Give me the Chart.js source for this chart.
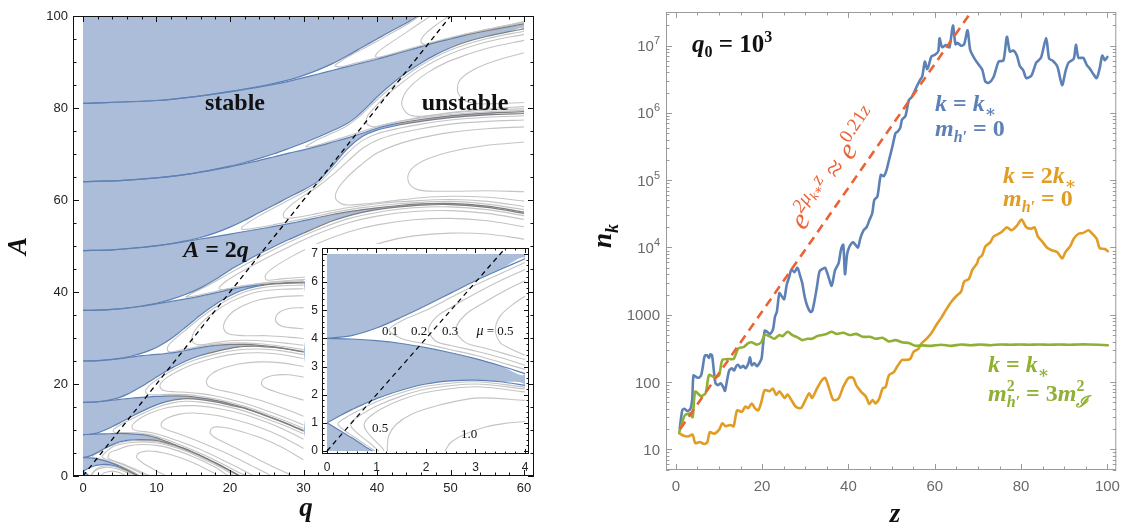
<!DOCTYPE html>
<html><head><meta charset="utf-8">
<script src="https://cdn.jsdelivr.net/npm/chart.js@4.4.1/dist/chart.umd.min.js"></script>
<style>
html,body{margin:0;padding:0;background:#fff}
body{width:1128px;height:530px;position:relative;overflow:hidden}
canvas{position:absolute;display:block}
</style></head><body>
<canvas id="cMain" width="560" height="530" style="left:0;top:0"></canvas>
<canvas id="cInset" width="240" height="240" style="left:296px;top:236px"></canvas>
<canvas id="cRight" width="568" height="530" style="left:560px;top:0"></canvas>
<script>
// ================= DATA : left panel (Mathieu stability chart, q-A plane) =================
const mainXTicks = [0,10,20,30,40,50,60];
const mainYTicks = [0,20,40,60,80,100];
const stableRegion = [[0,0],[60,0],[60,100],[0,100]];
// tongue boundaries b_n (lower) and a_n (upper)
const b1 = [[0,1],[0.25,0.74],[0.5,0.47],[0.75,0.18],[0.92,0]];
const a1 = [[0,1],[0.5,1.47],[1,1.86],[1.5,2.17],[2,2.38],[3,2.52],[4,2.33],[5,1.86],[6,1.2],[7,0.42],[7.5,0]];
const b2 = [[0,4],[1,3.92],[2,3.67],[3,3.28],[4,2.75],[5,2.1],[6,1.35],[7,0.5],[7.6,0]];
const a2 = [[0,4],[1,4.37],[2,5.17],[3,6.05],[4,6.83],[5,7.45],[6,7.75],[7,7.88],[8,7.9],[9,7.85],[10,7.72],[11,7.35],[12,6.9],[13,6.38],[14,5.8],[15,5.1],[16,4.4],[17,3.65],[18,2.85],[19,2.04],[20,1.15],[21,0.3],[21.35,0]];
const b3 = [[0,9],[1,9.05],[2,9.12],[3,9.17],[4,9.2],[5,9.24],[6,9.2],[7,9.12],[8,8.98],[9,8.72],[10,8.3],[11,7.72],[12,7.12],[13,6.48],[14,5.85],[15,5.15],[16,4.45],[17,3.7],[18,2.9],[19,2.08],[20,1.2],[21,0.33],[21.4,0]];
const a3 = [[0,9],[1,9.08],[2,9.38],[3,9.99],[4,10.75],[5,11.55],[6,12.4],[7,13.25],[8,14.05],[9,14.8],[10,15.45],[11,16.0],[12,16.4],[13,16.65],[14,16.8],[15,16.75],[16,16.6],[17,16.4],[18,16.12],[19,15.8],[20,15.42],[22,14.68],[25,13.02],[28,11.18],[30,9.78]];
const b4 = [[0,16],[1,16.03],[2,16.13],[3,16.3],[4,16.47],[5,16.65],[6,16.82],[7,16.97],[8,17.1],[9,17.2],[10,17.3],[11,17.37],[12,17.4],[13,17.4],[14,17.35],[15,17.2],[16,17.0],[17,16.75],[18,16.45],[19,16.1],[20,15.7],[22,14.8],[25,13.1],[28,11.25],[30,9.85]];
const a4 = [[0,16],[1,16.04],[2,16.14],[3,16.35],[4,16.66],[5,17.1],[6,17.75],[7,18.6],[8,19.5],[9,20.5],[10,21.5],[11,22.5],[12,23.4],[13,24.25],[14,25.0],[15,25.65],[16,26.2],[17,26.65],[18,27.05],[19,27.4],[20,27.75],[21,28.0],[22,28.15],[24,28.2],[26,27.95],[28,27.5],[30,26.95]];
const b5 = [[0,25],[2,25.08],[4,25.33],[5,25.5],[6,25.7],[7,25.95],[8,26.15],[9,26.3],[10,26.45],[11,26.58],[12,26.75],[13,27.0],[14,27.3],[15,27.62],[16,27.92],[17,28.18],[18,28.38],[19,28.52],[20,28.6],[22,28.62],[24,28.42],[26,28.07],[28,27.57],[30,27.02]];
const a5 = [[0,25],[2,25.09],[4,25.35],[5,25.56],[6,25.85],[7,26.25],[8,26.7],[9,27.25],[10,27.95],[11,28.85],[12,29.9],[13,31.1],[14,32.4],[15,33.7],[16,35.0],[17,36.2],[18,37.3],[19,38.3],[20,39.2],[21,39.95],[22,40.55],[23,41.0],[24,41.35],[26,41.75],[28,41.95],[30,42.0]];
const b6 = [[0,36],[2,36.06],[4,36.23],[6,36.5],[8,36.9],[10,37.42],[12,37.95],[14,38.5],[16,39.1],[18,39.8],[20,40.5],[22,41.1],[24,41.55],[26,41.85],[28,42.05],[30,42.15],[35,42.1],[40,41.6],[50,39],[60,33.5]];
const a6 = [[0,36],[2,36.06],[4,36.23],[6,36.52],[8,36.95],[10,37.55],[12,38.4],[14,39.5],[16,40.9],[18,42.7],[20,44.8],[22,46.6],[24,48.3],[26,49.9],[28,51.4],[30,52.8],[32,54.2],[34,55.5],[36,56.5],[38,57.3],[40,57.9],[43,58.5],[46,58.9],[50,59.0],[55,58.4],[60,57.1]];
const b7 = [[0,49],[4,49.17],[8,49.67],[10,50.04],[12,50.48],[14,50.98],[16,51.52],[18,52.05],[20,52.6],[22,53.15],[24,53.7],[26,54.25],[28,54.85],[30,55.5],[32,56.2],[34,56.85],[36,57.4],[38,57.9],[40,58.3],[43,58.8],[46,59.15],[50,59.25],[55,58.65],[60,57.35]];
const a7 = [[0,49],[4,49.17],[8,49.68],[10,50.07],[12,50.55],[14,51.12],[16,51.85],[18,52.85],[20,54.1],[22,55.6],[24,57.3],[26,58.9],[28,60.6],[30,62.2],[32,64.1],[34,67.5],[36,71.2],[38,73.8],[40,75.2],[43,76.3],[46,77.1],[50,77.9],[55,78.5],[60,78.8]];
const b8 = [[0,64],[5,64.2],[10,64.8],[15,65.8],[20,67.2],[22,67.9],[24,68.6],[26,69.4],[28,70.2],[30,70.9],[32,71.7],[34,72.6],[36,73.5],[38,74.5],[40,75.6],[43,76.7],[46,77.5],[50,78.3],[55,78.9],[60,79.2]];
const a8 = [[0,64],[5,64.2],[10,64.8],[15,65.8],[20,67.35],[22,68.15],[24,69.05],[26,70.05],[28,71.2],[30,72.4],[32,73.7],[34,75.1],[36,76.7],[37,77.8],[38,79.2],[39,80.8],[40,82.4],[42,85.2],[44,87.7],[46,89.8],[48,91.6],[50,93.1],[52,94.3],[55,95.6],[58,96.6],[60,97.2]];
const b9 = [[0,81],[10,81.63],[15,82.42],[20,83.5],[25,84.85],[28,85.8],[30,86.6],[32,87.4],[34,88.2],[36,89.0],[38,89.8],[40,90.6],[42,91.5],[44,92.4],[46,93.3],[48,94.2],[50,95.0],[52,95.8],[55,96.8],[58,97.7],[60,98.3]];
const a9 = [[0,81],[10,81.63],[15,82.43],[20,83.6],[25,85.0],[28,86.1],[30,87.1],[32,88.3],[34,89.7],[36,91.4],[38,93.2],[40,95.0],[42,96.8],[44,98.5],[45.5,100]];
// closing edges of the unstable regions (along A=0, q=30 or A=100)
const tail1 = [[7.5,0]], tail2 = [[21.35,0]], tail3 = [[21.4,0],[30,0]], tail9 = [[60,100]];
// contour lines of the Floquet exponent mu inside the unstable tongues
const c1a = [[1.0,0],[1.3,0.7],[1.8,1.5],[2.5,2.05],[3.2,2.25],[4,2.12],[5,1.65],[6,1.0],[6.8,0.35],[7.2,0]];
const c1b = [[1.22,0],[1.3,0.5],[1.6,1.1],[2.2,1.58],[3,1.88],[4,1.8],[5,1.35],[6,0.7],[6.6,0]];
const c1c = [[2.38,0],[2.8,0.6],[3.4,0.92],[4,1.05],[4.6,0.9],[5.3,0.5],[5.8,0]];
const c2a = [[21.2,0],[20,1.0],[18,2.7],[15,4.95],[12,6.7],[10,7.5],[8,7.7],[6,7.55],[4,6.7],[3,6.0],[2,5.0],[1.5,4.62],[1.25,4.3],[1.5,4.0],[2,3.8],[3,3.4],[4,2.9],[5,2.3],[6,1.6],[7,0.75],[7.8,0]];
const c2b = [[20.6,0],[19,1.6],[17,3.2],[14,5.4],[11,6.9],[9,7.35],[7,7.35],[5,6.85],[4,6.3],[3.2,5.35],[2.6,4.3],[2.8,3.85],[3.2,3.65],[4,3.25],[5,2.7],[6,2.05],[7,1.3],[8,0.5],[8.6,0]];
const c2c = [[19.8,0],[18,1.9],[15,4.2],[12,5.95],[10,6.65],[8,6.85],[6,6.5],[4.5,5.6],[3.75,5.2],[3.4,4.3],[3.5,3.85],[4,3.4],[5,2.85],[6,2.25],[7,1.55],[8,0.8],[9,0.1],[9.2,0]];
const c2d = [[18,0.5],[15,2.9],[12,4.6],[10,5.3],[8.6,5.4],[7.5,4.9],[7.3,4.0],[8,3.0],[9,2.0],[10,1.1],[11,0.3],[11.4,0]];
const c3a = [[30,9.2],[28,10.6],[25,12.4],[22,14.1],[19,15.3],[16,16.05],[14,16.25],[12,15.85],[10,14.9],[8,13.5],[6,11.9],[5,11.05],[4.3,10.3],[4.1,9.75],[4.5,9.4],[5,9.45],[7,9.4],[9,9.05],[11,8.1],[13,6.9],[15,5.6],[17,4.2],[19,2.6],[21,0.9],[22.3,0]];
const c3b = [[30,8.0],[27,10.4],[24,12.3],[21,13.8],[18,14.8],[15,15.3],[12,15.0],[10,14.2],[8.5,13.2],[7.3,12.0],[6.7,11.0],[6.8,10.2],[7.5,9.8],[9,9.5],[11,8.7],[13,7.6],[15,6.4],[17,5.0],[19,3.5],[21,1.9],[23,0.2],[23.2,0]];
const c3c = [[30,6.0],[27,8.6],[24,10.6],[21,12.1],[18,13.2],[15,13.7],[13,13.4],[11.5,12.6],[10.7,11.6],[10.7,10.7],[11.5,10.0],[13,9.2],[15,8.0],[17,6.7],[19,5.3],[21,3.8],[23,2.2],[25,0.6],[25.6,0]];
const c3d = [[30,3.5],[27,6.3],[24,8.4],[21,9.9],[19,10.6],[17.6,10.5],[17.3,9.4],[18,8.3],[20,6.7],[22,5.1],[24,3.5],[26,1.9],[28,0.4],[28.3,0]];
const c4a = [[30,26.4],[27,27.2],[24,27.6],[21,27.4],[18,26.5],[15,25.1],[13,23.7],[11,21.9],[9.5,20.3],[8.7,19.1],[8.5,18.3],[8.9,17.7],[10,17.65],[12,17.75],[14,17.7],[16,17.35],[18,16.8],[20,16.05],[22,15.15],[25,13.5],[28,11.7],[30,10.35]];
const c4b = [[30,25.5],[27,26.4],[24,26.8],[21,26.6],[18,25.7],[15,24.3],[13,22.9],[11.5,21.5],[10.6,20.2],[10.5,19.3],[11,18.6],[12.5,18.3],[14,18.2],[16,17.9],[18,17.4],[20,16.7],[22,15.8],[25,14.2],[28,12.4],[30,11.1]];
const c4c = [[30,23.8],[27,24.6],[24,24.8],[21,24.3],[19,23.4],[17.5,22.2],[16.8,20.8],[17,19.6],[18,18.9],[20,18.2],[22,17.4],[25,16.0],[28,14.3],[30,13.0]];
const c4d = [[30,21.5],[28,22.0],[26,21.9],[24.5,21.0],[24.3,19.9],[25,19.0],[27,17.9],[30,16.5]];
const c5a = [[30,41.5],[27,41.35],[24,40.85],[22,40.0],[20,38.6],[18,36.7],[16,34.4],[14,31.8],[12.5,29.8],[11.6,28.3],[11.5,27.3],[12,26.95],[13,27.3],[15,27.95],[17,28.5],[19,28.85],[21,28.95],[24,28.75],[27,28.2],[30,27.5]];
const c5b = [[30,40.7],[27,40.6],[24,40.1],[22,39.2],[20,37.8],[18,35.8],[16.5,33.9],[15.3,31.8],[14.8,30.0],[15.1,28.9],[16,28.5],[18,29.0],[20,29.4],[22,29.5],[25,29.3],[28,28.8],[30,28.4]];
const c5c = [[30,39.2],[27,39.0],[24,38.3],[22,37.2],[20.3,35.6],[19.3,33.6],[19.2,31.8],[20,30.8],[22,30.5],[25,30.5],[28,30.2],[30,29.9]];
const c5d = [[30,36.6],[28,36.4],[26.5,35.3],[26.2,33.8],[27,32.6],[28.5,32.2],[30,32.0]];
const c6a = [[60,56.6],[55,57.9],[50,58.5],[45,58.3],[40,57.3],[36,55.9],[32,53.6],[28,50.8],[24,47.6],[20,44.1],[17,41.4],[15,39.85],[14.2,39.15],[14.0,38.9],[14.5,38.95],[16,39.4],[18,40.1],[20,40.8],[22,41.4],[25,41.95],[28,42.35],[30,42.5]];
const c6b = [[60,55.8],[55,57.1],[50,57.7],[45,57.5],[40,56.5],[36,55.0],[32,52.7],[28,49.8],[24,46.6],[21,43.9],[19.2,42.0],[18.5,40.7],[19.2,40.5],[20,40.75],[22,41.35],[25,42.05],[28,42.5],[31,42.8]];
const c6c = [[60,54.2],[55,55.5],[50,56.0],[45,55.7],[40,54.6],[36,53.0],[32,50.6],[28.5,47.8],[26,45.4],[24.8,43.6],[25,42.6],[27,42.85],[30,43.2],[31,43.3]];
const c6d = [[60,51.5],[55,52.6],[50,52.8],[45,52.2],[41,50.9],[38,49.2],[36,47.2],[35.4,45.4],[36,44.0]];
const c7a = [[60,78.3],[55,78.0],[50,77.4],[46,76.5],[43,75.6],[40,74.4],[38,72.9],[36,70.2],[34,66.8],[32,63.6],[30,61.7],[28,60.0],[26,58.3],[24,56.6],[22.5,55.1],[21.7,54.2],[21.6,53.6],[23,53.8],[26,54.65],[30,55.9],[34,57.25],[38,58.35],[43,59.2],[50,59.7],[55,59.1],[60,57.9]];
const c7b = [[60,77.4],[55,77.1],[50,76.5],[46,75.5],[43,74.5],[40,73.0],[38,71.2],[36,68.4],[34,65.5],[32,63.0],[30,60.9],[28.3,58.9],[27.3,57.2],[27.4,56.1],[29,56.2],[32,57.1],[36,58.3],[40,59.2],[45,59.8],[50,60.1],[55,59.7],[60,58.6]];
const c7c = [[60,75.9],[55,75.5],[50,74.7],[46,73.5],[43,72.2],[40,70.2],[37.8,67.6],[35.8,64.7],[34.6,62.2],[34.4,60.2],[35.5,59.0],[38,59.1],[42,59.8],[46,60.5],[50,60.8],[55,60.6],[60,59.8]];
const c7d = [[60,72.6],[55,71.9],[50,70.5],[47,69.0],[45,67.2],[44.2,65.2],[44.5,63.3],[46,62.1],[50,61.9],[55,62.0],[60,61.8]];
const c8a = [[60,96.7],[55,95.1],[50,92.6],[46,89.3],[43,85.9],[41,83.2],[39,80.3],[37.5,78.0],[36,76.2],[34,74.6],[32,73.2],[31,72.3],[30.3,71.6],[31,71.55],[33,72.45],[35,73.4],[37,74.4],[39,75.45],[42,76.75],[46,77.85],[50,78.6],[55,79.2],[60,79.5]];
const c8b = [[60,96.0],[55,94.4],[50,91.8],[46,88.5],[43,85.0],[41,82.3],[39.6,80.0],[38.7,78.2],[38.6,76.6],[39.5,75.9],[41,76.4],[44,77.4],[48,78.5],[52,79.2],[56,79.65],[60,79.8]];
const c8c = [[60,94.7],[55,93.0],[50,90.3],[47,87.8],[45,85.4],[43.7,82.9],[43.4,80.5],[44.3,78.6],[46,78.2],[50,79.0],[55,79.85],[60,80.3]];
const c8d = [[60,92.0],[56,90.2],[53,88.2],[51.2,85.9],[51,83.4],[52,81.6],[54,80.9],[57,81.0],[60,81.2]];
const c9a = [[45.8,100],[44,98.1],[42,96.3],[40,94.5],[38,92.8],[36,91.1],[34.8,89.9],[34.3,89.2],[35,88.95],[36,89.3],[38,90.1],[40,90.9],[43,92.2],[46,93.6],[50,95.3],[55,97.1],[60,98.6]];
const c9b = [[47.3,100],[45.5,98.1],[43.5,95.9],[41.5,93.8],[40.1,92.1],[39.8,91.15],[40.8,91.0],[43,91.85],[46,93.35],[50,95.2],[55,97.1],[60,98.7]];
const c9c = [[49.8,100],[48,98.0],[46.5,96.0],[46,94.3],[47,93.7],[49.5,94.6],[53,96.1],[57,97.6],[60,98.85]];
const lineA2q = [[0,0],[50,100]];
// white box behind the inset, in (q, A) units of the main axes
const insetBox = [[30.2,0],[61.1,50.4]];

// ================= DATA : inset (0<=q<=4, 0<=A<=7) =================
const insetXTicks = [0,1,2,3,4];
const insetYTicks = [0,1,2,3,4,5,6,7];
const insetStable = [[0,0],[4,0],[4,7],[0,7]];
const ib1 = [[0,1],[0.25,0.74],[0.5,0.47],[0.75,0.18],[0.92,0]];
const ia1 = [[0,1],[0.25,1.24],[0.5,1.47],[0.75,1.67],[1,1.86],[1.5,2.16],[2,2.38],[2.5,2.49],[3,2.52],[3.5,2.46],[4,2.33]];
const ib2 = [[0,4],[0.5,3.98],[1,3.92],[1.5,3.82],[2,3.67],[2.5,3.49],[3,3.28],[3.5,3.03],[4,2.75]];
const ia2 = [[0,4],[0.5,4.1],[1,4.37],[1.5,4.75],[2,5.17],[2.5,5.61],[3,6.05],[3.5,6.45],[4,6.83]];
const itail1 = [[4,0]];
const im01 = [[4,2.27],[3,2.46],[2,2.3],[1.5,2.07],[1,1.75],[0.6,1.4],[0.3,1.1],[0.22,0.97],[0.3,0.8],[0.5,0.55],[0.8,0.2],[0.97,0]];
const im02 = [[4,2.2],[3,2.38],[2,2.2],[1.5,1.95],[1,1.6],[0.7,1.3],[0.5,1.05],[0.48,0.9],[0.6,0.65],[0.85,0.3],[1.05,0]];
const im03 = [[4,2.1],[3,2.28],[2,2.08],[1.5,1.82],[1.1,1.5],[0.85,1.2],[0.75,0.95],[0.8,0.7],[0.95,0.4],[1.12,0.1],[1.15,0]];
const im05 = [[4,1.8],[3,1.88],[2.2,1.6],[1.7,1.3],[1.4,0.95],[1.25,0.55],[1.22,0.2],[1.22,0]];
const im10 = [[2.38,0],[2.5,0.3],[2.8,0.6],[3.2,0.85],[3.6,0.98],[4,1.05]];
const iu01 = [[4,6.7],[3.5,6.3],[3,5.9],[2.5,5.45],[2,5.0],[1.5,4.62],[1.25,4.3],[1.5,4.0],[2,3.8],[2.5,3.6],[3,3.4],[3.5,3.15],[4,2.9]];
const iu02 = [[4,6.45],[3.5,6.05],[3,5.6],[2.5,5.1],[2.2,4.75],[2.05,4.3],[2.2,3.9],[2.5,3.75],[3,3.55],[3.5,3.32],[4,3.05]];
const iu03 = [[4,6.05],[3.6,5.7],[3.2,5.3],[2.8,4.85],[2.6,4.3],[2.8,3.85],[3.2,3.65],[3.6,3.45],[4,3.25]];
const iu05 = [[4,5.5],[3.75,5.2],[3.5,4.8],[3.4,4.3],[3.5,3.85],[3.75,3.6],[4,3.4]];
const insetA2q = [[0,0],[3.6,7.2]];

// ================= DATA : right panel n_k(z) =================
const rightXTicks = [0,20,40,60,80,100];
const rightYTicks = [10,100,1000,1e4,1e5,1e6,1e7];
const rightYLabels = [['10',''],['100',''],['1000',''],['10','4'],['10','5'],['10','6'],['10','7']];
const blueSeries = [[0.9,20],[1.5,38],[2.0,40],[2.7,37],[3.4,40],[3.8,55],[4.1,125],[4.8,118],[5.4,116],[5.9,128],[6.3,175],[6.7,245],[7.2,250],[7.7,228],[8.0,258],[8.4,248],[8.8,150],[9.2,96],[9.8,90],[10.4,96],[11.0,84],[11.4,74],[11.9,108],[12.4,150],[13.0,160],[13.5,148],[14.0,172],[14.5,180],[15.0,163],[15.6,174],[16.2,160],[16.8,188],[17.2,232],[17.6,178],[18.2,190],[18.8,172],[19.5,198],[19.9,228],[20.6,580],[21.2,555],[21.8,515],[22.5,600],[23.0,950],[23.4,1100],[24.0,2100],[24.5,1900],[25.1,1700],[25.7,2800],[26.3,3700],[26.8,4700],[27.5,4300],[28.2,5000],[28.8,3800],[29.3,2950],[29.9,1800],[30.5,1330],[31.2,1100],[31.6,1130],[32.2,1700],[32.7,2600],[33.3,4400],[34.0,4800],[34.6,5000],[35.4,3600],[36.1,2700],[36.9,4600],[37.7,5800],[38.3,9500],[38.8,11000],[39.2,4000],[39.7,8000],[40.3,10500],[41.0,12000],[41.6,11000],[42.2,10000],[42.8,14000],[43.5,18000],[44.2,20000],[44.9,26000],[45.5,32000],[46.0,51000],[46.7,57000],[47.5,120000],[48.2,115000],[48.8,140000],[49.4,200000],[50.2,320000],[50.9,500000],[51.4,530000],[52.0,600000],[52.4,790000],[53.2,900000],[54.0,1.56e6],[54.6,1.7e6],[55.1,1.96e6],[55.8,2.45e6],[56.6,3.1e6],[57.1,3.5e6],[57.7,5.8e6],[58.2,4.5e6],[58.5,4.8e6],[59.2,6.9e6],[60.0,7.3e6],[60.8,8.2e6],[61.1,1.29e7],[61.7,9.5e6],[62.6,1.02e7],[63.4,9.5e6],[64.2,2.0e7],[64.8,1.05e7],[65.3,1.1e7],[66.1,1.0e7],[66.8,1.05e7],[67.6,1.7e7],[68.2,8.7e6],[69.1,6.6e6],[70.2,5.2e6],[71.0,4.4e6],[71.7,2.95e6],[72.5,2.8e6],[73.6,3.4e6],[74.8,5.8e6],[75.9,6.0e6],[76.7,1.36e7],[77.4,8.2e6],[78.2,8.5e6],[79.0,7.2e6],[79.7,5.0e6],[80.5,4.3e6],[81.2,3.3e6],[82.4,3.6e6],[83.5,5.6e6],[84.6,6.6e6],[85.8,1.3e7],[86.5,6.4e6],[87.3,6.0e6],[88.4,4.9e6],[89.5,2.6e6],[90.3,4.2e6],[91.0,5.6e6],[92.2,6.4e6],[92.7,1.03e7],[93.3,6.6e6],[94.4,6.6e6],[95.2,5.2e6],[95.9,4.6e6],[96.7,3.8e6],[97.5,3.3e6],[98.2,4.6e6],[98.8,7.1e6],[99.4,6.1e6],[100.0,6.8e6]];
const orangeSeries = [[0.8,17.3],[1.7,16],[2.8,15.5],[3.9,16.5],[4.5,12.3],[5.5,12.8],[6.6,12],[7.3,12.8],[7.9,18],[8.9,17],[10.0,19.4],[10.8,24.4],[11.5,22],[12.7,23],[13.4,22],[14.2,38],[15.3,36],[16.1,43],[16.8,41],[17.6,48],[18.3,41],[19.1,38],[19.8,50],[20.6,76],[21.7,73],[22.5,80],[23.3,64],[24.0,73],[25.2,58],[25.9,65],[26.7,55],[27.8,43],[29.0,41],[30.1,55],[30.9,68],[31.6,58],[32.7,80],[33.9,107],[34.6,115],[35.4,85],[36.5,54],[37.7,57],[38.8,85],[40.0,115],[41.1,115],[41.8,90],[42.9,72],[44.1,60],[44.8,47],[45.6,54],[46.2,48],[47.1,56],[47.9,80],[48.6,84],[49.4,127],[50.5,140],[51.3,170],[52.4,213],[53.2,213],[54.3,220],[55.1,282],[56.2,310],[57.0,380],[58.1,440],[59.2,530],[60.4,710],[61.5,900],[62.6,1180],[63.8,1550],[64.9,1870],[66.1,2200],[66.8,3100],[67.9,3400],[68.7,4650],[69.8,5800],[70.2,6900],[71.0,7700],[71.7,10300],[72.9,12000],[73.6,14500],[74.8,16000],[75.5,17000],[76.7,20000],[77.8,18000],[79.0,21000],[80.1,26000],[81.2,20000],[82.4,19000],[83.1,20000],[83.9,14500],[85.0,12000],[86.1,9800],[87.3,9000],[88.4,8500],[89.5,6900],[90.3,8600],[91.4,10500],[92.2,13500],[93.3,16000],[94.4,16500],[95.6,18000],[96.3,16500],[97.5,13500],[98.2,9800],[99.4,9500],[100.1,8800]];
const greenSeries = [[0.8,18],[1.4,24],[2.1,32],[3.2,34],[3.9,30],[4.5,72],[5.8,62],[6.9,68],[7.7,127],[8.9,118],[10.0,125],[10.8,213],[12.3,220],[13.4,220],[14.5,318],[15.7,330],[16.8,378],[17.6,390],[18.7,360],[19.8,390],[20.6,500],[21.7,480],[22.8,440],[24.0,500],[24.7,480],[25.9,560],[27.0,500],[28.2,460],[29.3,420],[30.5,440],[31.6,440],[32.7,480],[33.9,500],[35.0,520],[36.1,560],[37.3,520],[38.8,540],[40.3,500],[41.8,520],[43.3,470],[44.9,470],[46.4,440],[47.9,455],[49.4,400],[50.9,420],[52.4,390],[54.0,380],[55.5,345],[57.0,350],[59.2,345],[61.5,358],[63.8,345],[66.1,362],[68.3,352],[70.6,362],[72.9,352],[75.2,362],[77.5,358],[79.7,362],[81.9,358],[84.2,362],[86.5,358],[88.8,362],[91.0,358],[93.3,362],[95.6,362],[97.9,358],[100.1,352]];
const fitLine = [[1,20],[68,2.9e7]];

// ================= STYLE / HELPERS =================
const SERIF = '"Liberation Serif","DejaVu Serif",serif';
const SANS = '"Liberation Sans","DejaVu Sans",sans-serif';
const BLUE_FILL = '#abbdd9', BLUE_LINE = '#5e81b5', CONT = '#c4c4c4', DEEP = '#7e7e7e';
const C_BLUE = '#5e81b5', C_ORANGE = '#e19c24', C_GREEN = '#8fb032', C_RED = '#eb6235';
Chart.defaults.animation = false;
Chart.defaults.font.family = SANS;

const pts = a => a.map(([x, y]) => ({x, y}));
function polygon(lower, tail, upper) {
  const out = [];
  [...lower, ...tail, ...upper.slice().reverse()].forEach(p => {
    const l = out[out.length - 1];
    if (!l || l[0] !== p[0] || l[1] !== p[1]) out.push(p);
  });
  return pts(out);
}
function regionDS(data, color, order, tension) {
  return {data, fill: 'shape', backgroundColor: color, borderColor: 'rgba(0,0,0,0)', borderWidth: 1,
    pointRadius: 0, tension: tension, order};
}
function lineDS(arr, color, width, order, extra) {
  return Object.assign({data: pts(arr), fill: false, borderColor: color, borderWidth: width,
    pointRadius: 0, tension: 0.3, order}, extra || {});
}
const deepSeg = {borderColor: c => (c.p0.parsed.y < 2 * c.p0.parsed.x - 6 ? DEEP : undefined)};

function drawFrame(chart, color, xt, yt) {
  const {ctx, chartArea: a, scales: {x, y}} = chart;
  ctx.save();
  ctx.strokeStyle = color; ctx.lineWidth = 1;
  ctx.beginPath();
  xt.forEach(([v, len]) => {
    const p = Math.round(x.getPixelForValue(v)) + 0.5;
    ctx.moveTo(p, a.bottom); ctx.lineTo(p, a.bottom - len);
    ctx.moveTo(p, a.top); ctx.lineTo(p, a.top + len);
  });
  yt.forEach(([v, len]) => {
    const p = Math.round(y.getPixelForValue(v)) + 0.5;
    ctx.moveTo(a.left, p); ctx.lineTo(a.left + len, p);
    ctx.moveTo(a.right, p); ctx.lineTo(a.right - len, p);
  });
  ctx.stroke();
  ctx.strokeRect(a.left + 0.5, a.top + 0.5, a.right - a.left - 1, a.bottom - a.top - 1);
  ctx.restore();
}
function rich(ctx, x, y, parts, color, align) {
  ctx.save();
  ctx.fillStyle = color; ctx.textBaseline = 'alphabetic'; ctx.textAlign = 'left';
  const ws = parts.map(p => {
    const items = p.stack || [p];
    return Math.max(...items.map(s => { ctx.font = s[1]; return ctx.measureText(s[0]).width; }));
  });
  const total = ws.reduce((s, w) => s + w, 0);
  let cx = align === 'center' ? x - total / 2 : (align === 'right' ? x - total : x);
  parts.forEach((p, i) => {
    (p.stack || [p]).forEach(s => { ctx.font = s[1]; ctx.fillText(s[0], cx, y + (s[2] || 0)); });
    cx += ws[i];
  });
  ctx.restore();
}
const BI = s => `italic bold ${s}px ${SERIF}`, B = s => `bold ${s}px ${SERIF}`;
const IT = s => `italic ${s}px ${SERIF}`, RM = s => `${s}px ${SERIF}`;
const SN = s => `${s}px ${SANS}`;

function fixedScale(ticks, size, color, pad, show) {
  return {
    grid: {display: false, drawTicks: false}, border: {display: false},
    ticks: {display: show !== false, font: {size, family: SANS}, color, padding: pad, maxRotation: 0,
      autoSkip: false, callback: v => String(v)},
    afterBuildTicks: s => { s.ticks = ticks.map(v => ({value: v})); }
  };
}

// ================= LEFT MAIN CHART =================
const tongues = [[b1, tail1, a1], [b2, tail2, a2], [b3, tail3, a3], [b4, [], a4], [b5, [], a5],
  [b6, [], a6], [b7, [], a7], [b8, [], a8], [b9, tail9, a9]];
const contours = [c1a, c1b, c1c, c2a, c2b, c2c, c2d, c3a, c3b, c3c, c3d, c4a, c4b, c4c, c4d,
  c5a, c5b, c5c, c5d, c6a, c6b, c6c, c6d, c7a, c7b, c7c, c7d, c8a, c8b, c8c, c8d, c9a, c9b, c9c];
const boundaries = [b1, a1, b2, a2, b3, a3, b4, a4, b5, a5, b6, a6, b7, a7, b8, a8, b9, a9];

const mainSets = [regionDS(pts(stableRegion), BLUE_FILL, 100, 0)];
tongues.forEach(([lo, tl, up]) => mainSets.push(regionDS(polygon(lo, tl, up), '#ffffff', 90, 0.3)));
contours.forEach(c => mainSets.push(lineDS(c, CONT, 1.1, 60)));
boundaries.forEach(b => mainSets.push(lineDS(b, BLUE_LINE, 1.2, 40, {segment: deepSeg})));
mainSets.push(lineDS(lineA2q, '#000', 1.3, 10, {borderDash: [5, 4], tension: 0}));

const mainX = [], mainY = [];
for (let v = 0; v <= 60; v += 2) mainX.push([v, v % 10 === 0 ? 6 : 3.5]);
for (let v = 0; v <= 100; v += 5) mainY.push([v, v % 20 === 0 ? 6 : 3.5]);

new Chart(document.getElementById('cMain'), {
  type: 'line',
  data: {datasets: mainSets},
  options: {
    responsive: false, devicePixelRatio: 1, animation: false,
    layout: {padding: {left: 0, right: 26, top: 16, bottom: 0}},
    plugins: {legend: {display: false}, tooltip: {enabled: false}},
    scales: {
      x: Object.assign({type: 'linear', min: -1.36, max: 61.36, afterFit: s => { s.height = 54; }},
        fixedScale(mainXTicks, 13, '#222', 5)),
      y: Object.assign({type: 'linear', min: 0, max: 100, afterFit: s => { s.width = 73; }},
        fixedScale(mainYTicks, 13, '#222', 5))
    }
  },
  plugins: [{
    id: 'mainDeco',
    afterDraw(chart) {
      const ctx = chart.ctx, {x, y} = chart.scales;
      // white background of the inset
      const x0 = Math.round(x.getPixelForValue(insetBox[0][0])), x1 = Math.round(x.getPixelForValue(insetBox[1][0]));
      const y0 = Math.round(y.getPixelForValue(insetBox[1][1])), y1 = Math.round(y.getPixelForValue(insetBox[0][1]));
      ctx.save(); ctx.fillStyle = '#fff'; ctx.fillRect(x0, y0, x1 - x0, y1 - y0); ctx.restore();
      drawFrame(chart, '#111', mainX, mainY);
      ctx.save();
      ctx.fillStyle = '#111'; ctx.textAlign = 'center'; ctx.textBaseline = 'alphabetic';
      ctx.font = B(24);
      ctx.fillText('stable', 235, 110);
      ctx.fillText('unstable', 465, 110);
      ctx.restore();
      rich(ctx, 216, 257, [['A', BI(24)], [' = 2', B(24)], ['q', BI(24)]], '#111', 'center');
      // axis titles
      ctx.save();
      ctx.fillStyle = '#111'; ctx.font = BI(27); ctx.textAlign = 'center'; ctx.textBaseline = 'middle';
      ctx.translate(19, 246); ctx.rotate(-Math.PI / 2); ctx.fillText('A', 0, 0);
      ctx.restore();
      ctx.save();
      ctx.fillStyle = '#111'; ctx.font = BI(27); ctx.textAlign = 'center'; ctx.textBaseline = 'alphabetic';
      ctx.fillText('q', 306, 516);
      ctx.restore();
    }
  }]
});

// ================= INSET CHART =================
const insetSets = [
  regionDS(pts(insetStable), BLUE_FILL, 100, 0),
  regionDS(polygon(ib1, itail1, ia1), '#ffffff', 90, 0.3),
  regionDS(polygon(ib2, [], ia2), '#ffffff', 90, 0.3)
];
[im01, im02, im03, im05, im10, iu01, iu02, iu03, iu05].forEach(c => insetSets.push(lineDS(c, CONT, 1.1, 60)));
[ib1, ia1, ib2, ia2].forEach(b => insetSets.push(lineDS(b, BLUE_LINE, 1.2, 40)));
insetSets.push(lineDS(insetA2q, '#000', 1.2, 10, {borderDash: [5, 4], tension: 0}));

const insX = [], insY = [];
for (let i = 0; i <= 20; i++) insX.push([i * 0.2, i % 5 === 0 ? 5 : 2.5]);
for (let i = 0; i <= 35; i++) insY.push([i * 0.2, i % 5 === 0 ? 5 : 2.5]);

new Chart(document.getElementById('cInset'), {
  type: 'line',
  data: {datasets: insetSets},
  options: {
    responsive: false, devicePixelRatio: 1, animation: false,
    layout: {padding: {left: 0, right: 7, top: 12, bottom: 0}},
    plugins: {legend: {display: false}, tooltip: {enabled: false}},
    scales: {
      x: Object.assign({type: 'linear', min: -0.101, max: 4.081, afterFit: s => { s.height = 22; }},
        fixedScale(insetXTicks, 12, '#222', 6)),
      y: Object.assign({type: 'linear', min: -0.107, max: 7.213, afterFit: s => { s.width = 26; }},
        fixedScale(insetYTicks, 12, '#222', 4))
    }
  },
  plugins: [{
    id: 'insetDeco',
    afterDraw(chart) {
      drawFrame(chart, '#111', insX, insY);
      const ctx = chart.ctx;
      ctx.save();
      ctx.fillStyle = '#111'; ctx.textAlign = 'center'; ctx.font = RM(13);
      ctx.fillText('0.1', 94, 99);
      ctx.fillText('0.2', 123, 99);
      ctx.fillText('0.3', 154, 99);
      ctx.fillText('0.5', 84, 196);
      ctx.fillText('1.0', 173, 202);
      ctx.restore();
      rich(ctx, 199, 99, [['\u03bc', IT(14)], [' = 0.5', RM(13)]], '#111', 'center');
    }
  }]
});

// ================= RIGHT CHART =================
const rightX = [], rightY = [];
for (let v = 0; v <= 100; v += 5) rightX.push([v, v % 20 === 0 ? 6 : 3.5]);
for (let e = 0; e <= 7; e++) for (let m = 1; m <= 9; m++) {
  const v = m * Math.pow(10, e);
  if (v >= 4.92 && v <= 3.17e7) rightY.push([v, m === 1 ? 6 : 3.5]);
}
const seriesDS = (arr, color, order, extra) => Object.assign({data: pts(arr), borderColor: color,
  borderWidth: 2.6, pointRadius: 0, tension: 0.25, fill: false, order,
  borderJoinStyle: 'round', borderCapStyle: 'round'}, extra || {});

new Chart(document.getElementById('cRight'), {
  type: 'line',
  data: {datasets: [
    seriesDS(fitLine, C_RED, 1, {borderDash: [9, 6], tension: 0, borderCapStyle: 'butt'}),
    seriesDS(greenSeries, C_GREEN, 2),
    seriesDS(orangeSeries, C_ORANGE, 3),
    seriesDS(blueSeries, C_BLUE, 4)
  ]},
  options: {
    responsive: false, devicePixelRatio: 1, animation: false,
    layout: {padding: {left: 0, right: 3, top: 12, bottom: 0}},
    plugins: {legend: {display: false}, tooltip: {enabled: false}},
    scales: {
      x: Object.assign({type: 'linear', min: -2.27, max: 102.05, afterFit: s => { s.height = 60; }},
        fixedScale(rightXTicks, 15, '#6a6a6a', 8)),
      y: Object.assign({type: 'logarithmic', min: 4.92, max: 3.17e7, afterFit: s => { s.width = 106; }},
        fixedScale(rightYTicks, 15, '#6a6a6a', 6, false))
    }
  },
  plugins: [{
    id: 'rightDeco',
    afterDraw(chart) {
      drawFrame(chart, '#9a9a9a', rightX, rightY);
      const ctx = chart.ctx, ys = chart.scales.y;
      // y tick labels with superscript exponents
      rightYTicks.forEach((v, i) => {
        const [base, ex] = rightYLabels[i];
        const py = ys.getPixelForValue(v) + 5.5;
        rich(ctx, 100, py, ex ? [[base, SN(15)], [ex, SN(11), -7]] : [[base, SN(15)]], '#6a6a6a', 'right');
      });
      const ox = 560; // canvas offset in page
      rich(ctx, 692 - ox, 52, [['q', BI(25)], ['0', B(16), 5], [' = 10', B(25)], ['3', B(16), -10]], '#111');
      rich(ctx, 935 - ox, 111, [['k', BI(24)], [' = ', B(24)], ['k', BI(24)], ['\u2217', B(17), 6]], C_BLUE);
      rich(ctx, 935 - ox, 136, [['m', BI(24)], ['h\u2032', BI(16), 6], [' = 0', B(24)]], C_BLUE);
      rich(ctx, 1003 - ox, 183, [['k', BI(24)], [' = 2', B(24)], ['k', BI(24)], ['\u2217', B(17), 6]], C_ORANGE);
      rich(ctx, 1003 - ox, 206, [['m', BI(24)], ['h\u2032', BI(16), 6], [' = 0', B(24)]], C_ORANGE);
      rich(ctx, 988 - ox, 372, [['k', BI(24)], [' = ', B(24)], ['k', BI(24)], ['\u2217', B(17), 6]], C_GREEN);
      rich(ctx, 988 - ox, 401, [['m', BI(24)], {stack: [['2', B(16), -10], ['h\u2032', BI(16), 6]]},
        [' = 3', B(24)], ['m', BI(24)], {stack: [['2', B(16), -10], ['\u2110', BI(16), 6]]}], C_GREEN);
      // rotated fit label
      ctx.save();
      ctx.translate(804 - ox, 231);
      ctx.rotate(-56 * Math.PI / 180);
      rich(ctx, 0, 0, [['e', IT(29)], ['2\u03bc', IT(19), -12], ['k\u2217', IT(13), -7], ['z', IT(19), -12],
        [' \u2248 ', RM(29)], ['e', IT(29)], ['0.21', RM(19), -12], ['z', IT(19), -12]], C_RED);
      ctx.restore();
      // axis titles
      ctx.save();
      ctx.translate(603 - ox, 236); ctx.rotate(-Math.PI / 2);
      rich(ctx, 0, 8, [['n', BI(27)], ['k', BI(18), 7]], '#111', 'center');
      ctx.restore();
      rich(ctx, 895 - ox, 522, [['z', BI(27)]], '#111', 'center');
    }
  }]
});
</script></body></html>
